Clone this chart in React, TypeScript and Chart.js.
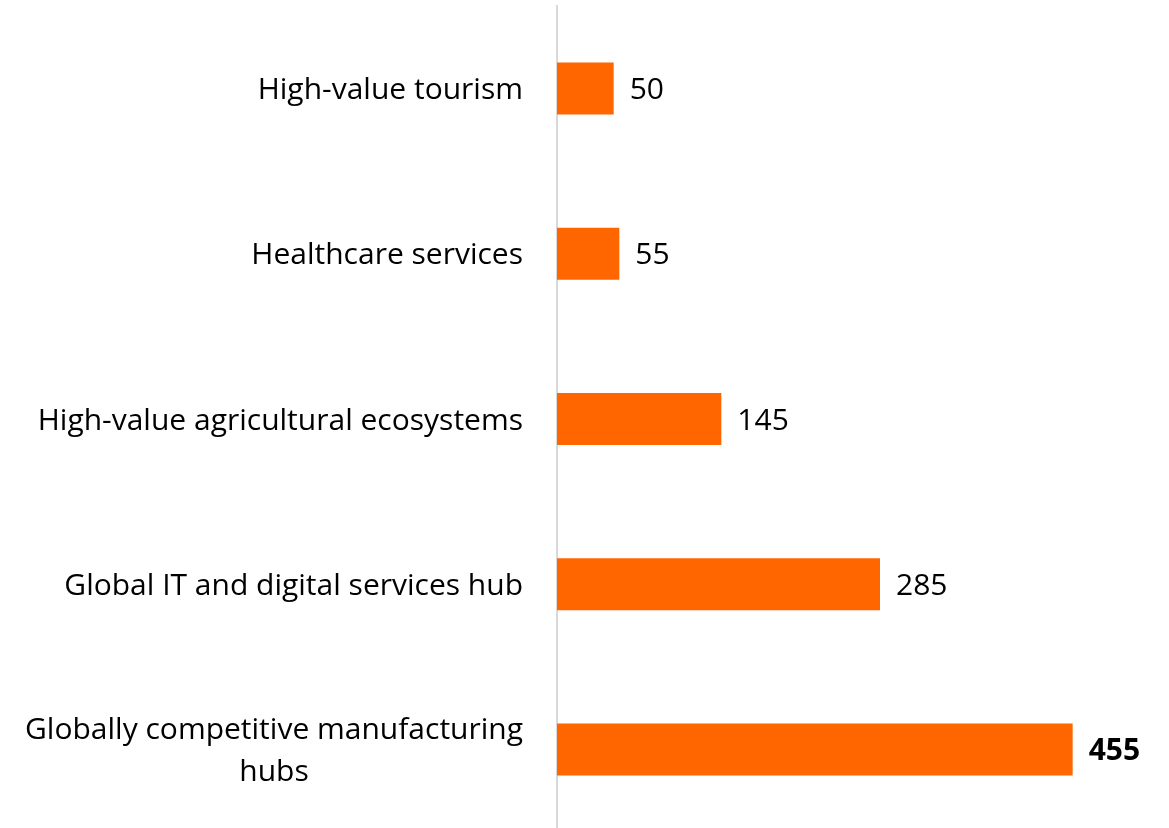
import React, { useEffect, useRef } from "react";
import { Chart, registerables } from "chart.js";

Chart.register(...registerables);

const categories: string[][] = [
  ["High-value tourism"],
  ["Healthcare services"],
  ["High-value agricultural ecosystems"],
  ["Global IT and digital services hub"],
  ["Globally competitive manufacturing", "hubs"],
];
const values: number[] = [50, 55, 145, 285, 455];
const boldIndex = 4;

const FONT = "'Open Sans', 'Noto Sans', sans-serif";
const FONT_SIZE = 30;

const labelsPlugin = {
  id: "customLabels",
  afterDraw(chart: any) {
    const ctx = chart.ctx;
    const y = chart.scales.y;
    const x = chart.scales.x;
    const left = chart.chartArea.left;
    ctx.save();
    ctx.fillStyle = "#000000";
    ctx.textBaseline = "middle";
    const lineH = 42;
    categories.forEach((lines, i) => {
      const cy = y.getPixelForValue(i) + 2;
      ctx.font = `${FONT_SIZE}px ${FONT}`;
      const rightX = left - 34;
      const widths = lines.map((l) => ctx.measureText(l).width);
      const maxW = Math.max(...widths);
      const top = cy - ((lines.length - 1) * lineH) / 2;
      lines.forEach((l, j) => {
        if (lines.length === 1) {
          ctx.textAlign = "right";
          ctx.fillText(l, rightX, top + j * lineH);
        } else {
          ctx.textAlign = "center";
          ctx.fillText(l, rightX - maxW / 2, top + j * lineH);
        }
      });
      // value label
      ctx.textAlign = "left";
      ctx.font = `${i === boldIndex ? "bold " : ""}${FONT_SIZE}px ${FONT}`;
      ctx.fillText(String(values[i]), x.getPixelForValue(values[i]) + 16, cy);
    });
    ctx.restore();
  },
};

export default function App() {
  const ref = useRef<HTMLCanvasElement | null>(null);
  useEffect(() => {
    if (!ref.current) return;
    const chart = new Chart(ref.current, {
      type: "bar",
      data: {
        labels: categories.map((c) => c.join(" ")),
        datasets: [
          {
            data: values,
            backgroundColor: "#FF6600",
            borderWidth: 0,
            barPercentage: 0.315,
            categoryPercentage: 1,
          },
        ],
      },
      options: {
        indexAxis: "y",
        animation: false,
        responsive: true,
        maintainAspectRatio: false,
        layout: { padding: { top: 6, right: 0, bottom: 0, left: 0 } },
        plugins: { legend: { display: false }, tooltip: { enabled: false } },
        scales: {
          x: { display: false, min: 0, max: 540 },
          y: {
            ticks: { display: false },
            grid: { display: false },
            border: { display: true, color: "#d9d9d9", width: 2 },
            afterFit: (s: any) => {
              s.width = 557;
            },
          },
        },
      },
      plugins: [labelsPlugin],
    });
    return () => chart.destroy();
  }, []);
  return (
    <div style={{ position: "fixed", left: 0, top: 0, width: 1169, height: 828, overflow: "hidden", background: "#fff" }}>
      <div style={{ position: "relative", width: 1169, height: 832 }}>
        <canvas ref={ref} />
      </div>
    </div>
  );
}
